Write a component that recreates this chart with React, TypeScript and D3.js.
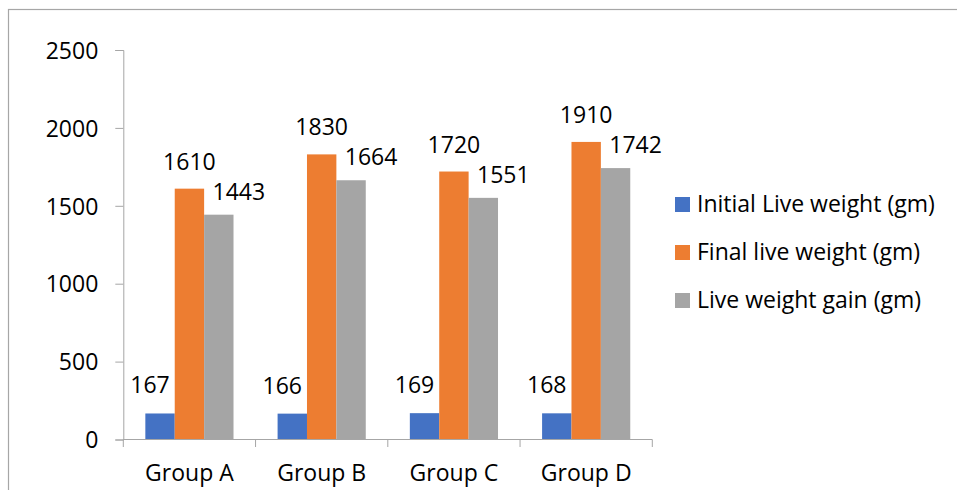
import React, { useEffect, useRef } from "react";
import * as d3 from "d3";

const groups = ["Group A", "Group B", "Group C", "Group D"];
const seriesNames = ["Initial Live weight (gm)", "Final live weight (gm)", "Live weight gain (gm)"];
const initialWeight = [167, 166, 169, 168];
const finalWeight = [1610, 1830, 1720, 1910];
const weightGain = [1443, 1664, 1551, 1742];
const yTicks = [0, 500, 1000, 1500, 2000, 2500];

const colors = ["#4472C4", "#ED7D31", "#A5A5A5"];
// label nudges per series (Excel moved them to avoid overlap)
const labelDx = [-10, 0, 20];
const labelGap = [20, 19, 15];

export default function App() {
    const ref = useRef<SVGSVGElement>(null);
    const width = 957;
    const height = 490;

    useEffect(() => {
        const svg = d3.select(ref.current);
        svg.selectAll("*").remove();
        const font = "'Open Sans', sans-serif";
        const axisColor = "#a6a6a6";

        // outer chart border
        svg.append("rect")
            .attr("x", 8.5).attr("y", 9.5)
            .attr("width", 1000).attr("height", 1000)
            .attr("fill", "none")
            .attr("stroke", "#a6a6a6")
            .attr("stroke-width", 1.2);

        const x = d3.scaleBand().domain(groups).range([123.3, 652.3]);
        const x1 = d3.scaleBand().domain(["0", "1", "2"])
            .range([0, x.bandwidth()])
            .paddingOuter(0.75).paddingInner(0);
        const y = d3.scaleLinear().domain([0, 2500]).range([439.5, 50]);

        const series = [initialWeight, finalWeight, weightGain];

        // y axis
        const yAxis = svg.append("g").attr("transform", "translate(123.3,0)");
        yAxis.call(d3.axisLeft(y).tickValues(yTicks).tickSize(8).tickPadding(17).tickFormat(d3.format("d")));
        yAxis.select(".domain").attr("stroke", axisColor);
        yAxis.selectAll(".tick line").attr("stroke", axisColor);
        yAxis.selectAll("text")
            .attr("font-family", font)
            .attr("font-size", "23px")
            .attr("fill", "#000")
            .attr("dy", "0.36em");

        // bars
        series.forEach((vals, s) => {
            const g = svg.append("g");
            g.selectAll("rect")
                .data(vals)
                .enter()
                .append("rect")
                .attr("x", (d, i) => (x(groups[i]) as number) + (x1(String(s)) as number))
                .attr("y", d => y(d))
                .attr("width", x1.bandwidth())
                .attr("height", d => y(0) - y(d))
                .attr("fill", colors[s]);

            g.selectAll("text")
                .data(vals)
                .enter()
                .append("text")
                .text(d => d)
                .attr("x", (d, i) => (x(groups[i]) as number) + (x1(String(s)) as number) + x1.bandwidth() / 2 + labelDx[s])
                .attr("y", d => y(d) - labelGap[s])
                .attr("text-anchor", "middle")
                .attr("font-family", font)
                .attr("font-size", "23px")
                .attr("fill", "#000");
        });

        // x axis
        const xAxis = svg.append("g");
        xAxis.append("line")
            .attr("x1", x.range()[0]).attr("x2", x.range()[1])
            .attr("y1", y(0)).attr("y2", y(0))
            .attr("stroke", axisColor);
        const bounds = groups.map(g => x(g) as number).concat([x.range()[1]]);
        xAxis.selectAll("line.tk")
            .data(bounds)
            .enter()
            .append("line")
            .attr("class", "tk")
            .attr("x1", d => d).attr("x2", d => d)
            .attr("y1", y(0)).attr("y2", y(0) + 7.5)
            .attr("stroke", axisColor);
        xAxis.selectAll("text")
            .data(groups)
            .enter()
            .append("text")
            .text(d => d)
            .attr("x", d => (x(d) as number) + x.bandwidth() / 2)
            .attr("y", 481)
            .attr("text-anchor", "middle")
            .attr("font-family", font)
            .attr("font-size", "23px")
            .attr("fill", "#000");

        // legend
        const legend = svg.append("g").attr("transform", "translate(675,197)");
        const items = legend.selectAll("g")
            .data(seriesNames)
            .enter()
            .append("g")
            .attr("transform", (d, i) => `translate(0, ${i * 48})`);
        items.append("rect")
            .attr("width", 15).attr("height", 15)
            .attr("fill", (d, i) => colors[i]);
        items.append("text")
            .text(d => d)
            .attr("x", 22)
            .attr("y", 15.3)
            .attr("font-family", font)
            .attr("font-size", "23px")
            .attr("fill", "#000");
    }, []);

    return (
        <svg
            ref={ref}
            width={width}
            height={height}
            style={{ position: "absolute", left: 0, top: 0, background: "#fff" }}
        />
    );
}
